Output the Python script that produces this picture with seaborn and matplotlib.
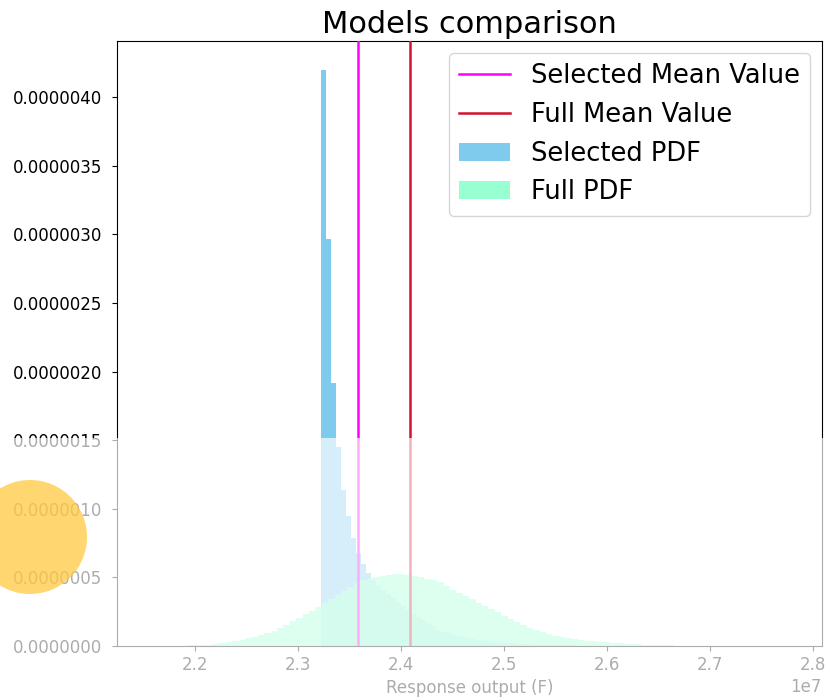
import numpy as np
import pandas as pd
import matplotlib
matplotlib.use("Agg")
import matplotlib.pyplot as plt
from matplotlib.ticker import FormatStrFormatter
from matplotlib.patches import Rectangle, Ellipse
import seaborn as sns

# ---------------- data ----------------
# Selected model histogram (density values, x in units of F)
sel_start = 2.3226e7
sel_width = 0.00485e7
sel_heights = [4.20, 2.97, 1.92, 1.45, 1.14, 0.95, 0.79, 0.68, 0.60, 0.53,
               0.48, 0.44, 0.41, 0.38, 0.35, 0.32, 0.29, 0.26, 0.23, 0.21,
               0.19, 0.165, 0.145, 0.12, 0.10, 0.092, 0.083, 0.075, 0.067, 0.06,
               0.053, 0.047, 0.042, 0.037, 0.033, 0.029, 0.025, 0.022, 0.019, 0.017,
               0.015, 0.013, 0.011, 0.010, 0.009, 0.008, 0.007, 0.006, 0.005, 0.0045,
               0.004, 0.0035, 0.003, 0.0027, 0.0024, 0.002, 0.0018, 0.0015, 0.0013, 0.0011,
               0.001, 0.0008, 0.0006]  # x 1e-6

# Full model histogram
full_start = 2.155e7
full_width = 0.006223e7
full_heights = [0.0003, 0.0005, 0.001, 0.0015, 0.002, 0.003, 0.004, 0.005, 0.007, 0.010,
                0.016, 0.022, 0.029, 0.037, 0.046, 0.056, 0.068, 0.082, 0.097, 0.113,
                0.132, 0.155, 0.180, 0.207, 0.232, 0.258, 0.284, 0.313, 0.343, 0.372,
                0.403, 0.432, 0.458, 0.478, 0.494, 0.506, 0.514, 0.520, 0.523, 0.524,
                0.518, 0.510, 0.500, 0.490, 0.480, 0.465, 0.440, 0.412, 0.388, 0.364,
                0.340, 0.316, 0.293, 0.270, 0.245, 0.220, 0.197, 0.175, 0.153, 0.135,
                0.117, 0.102, 0.088, 0.076, 0.066, 0.057, 0.050, 0.045, 0.040, 0.036,
                0.032, 0.028, 0.024, 0.021, 0.018, 0.015, 0.012, 0.010, 0.008, 0.0065,
                0.0055, 0.0045, 0.0038, 0.0032, 0.0027, 0.0022, 0.0018, 0.0015, 0.0012, 0.0010,
                0.0008, 0.0007, 0.0006, 0.0005, 0.0004, 0.0003, 0.0002, 0.0002, 0.0001, 0.0001]  # x 1e-6

selected_mean = 2.3583e7
full_mean = 2.4087e7

title = "Models comparison"
xlabel = "Response output (F)"
labels = ["Selected Mean Value", "Full Mean Value", "Selected PDF", "Full PDF"]

# ---------------- build tables ----------------
sel_edges = sel_start + sel_width * np.arange(len(sel_heights) + 1)
full_edges = full_start + full_width * np.arange(len(full_heights) + 1)
sel_df = pd.DataFrame({"x": (sel_edges[:-1] + sel_edges[1:]) / 2,
                       "w": np.array(sel_heights) * 1e-6})
full_df = pd.DataFrame({"x": (full_edges[:-1] + full_edges[1:]) / 2,
                        "w": np.array(full_heights) * 1e-6})

plt.rcParams["font.family"] = ["DejaVu Sans"]
fig = plt.figure(figsize=(8.3, 7.0), dpi=100)
ax = fig.add_axes([0.141, 0.0771, 0.849, 0.8643])

l1 = ax.axvline(selected_mean, color="magenta", lw=1.8, label=labels[0], zorder=3)
l2 = ax.axvline(full_mean, color="#d0142e", lw=1.8, label=labels[1], zorder=3)

sns.histplot(data=sel_df, x="x", weights="w", bins=sel_edges.tolist(), stat="count",
             color="#7ecbee", alpha=1.0, linewidth=0, edgecolor="none",
             ax=ax, label=labels[2], zorder=1)
sns.histplot(data=full_df, x="x", weights="w", bins=full_edges.tolist(), stat="count",
             color="#7fffc8", alpha=0.8, linewidth=0, edgecolor="none",
             ax=ax, label=labels[3], zorder=2)

ax.set_xlim(2.124e7, 2.8087e7)
ax.set_ylim(0, 4.41e-6)
ax.set_yticks(np.arange(0, 4.01e-6, 0.5e-6))
ax.yaxis.set_major_formatter(FormatStrFormatter("%.7f"))
ax.set_xticks(np.arange(2.2e7, 2.81e7, 0.1e7))
ax.tick_params(labelsize=12)
ax.tick_params(axis="y", pad=7)
ax.xaxis.get_offset_text().set_fontsize(12)
ax.set_ylabel("")
ax.set_xlabel(xlabel, fontsize=12)
ax.set_title(title, fontsize=22, pad=6)

patches = [c.patches[0] for c in ax.containers]
leg = ax.legend(handles=[l1, l2] + patches, labels=labels, loc="upper right",
                fontsize=18.5, borderaxespad=0.45)

# whitened lower band and yellow marker, as in the reference
fig.add_artist(Rectangle((0, 0), 1, (700 - 438) / 700, transform=fig.transFigure,
                         facecolor="white", edgecolor="none", alpha=0.68, zorder=10))
fig.add_artist(Ellipse((30 / 830, (700 - 537) / 700), 114 / 830, 114 / 700,
                       transform=fig.transFigure, facecolor="#ffc940",
                       edgecolor="none", alpha=0.75, zorder=11))

fig.savefig("out.png", dpi=100)
